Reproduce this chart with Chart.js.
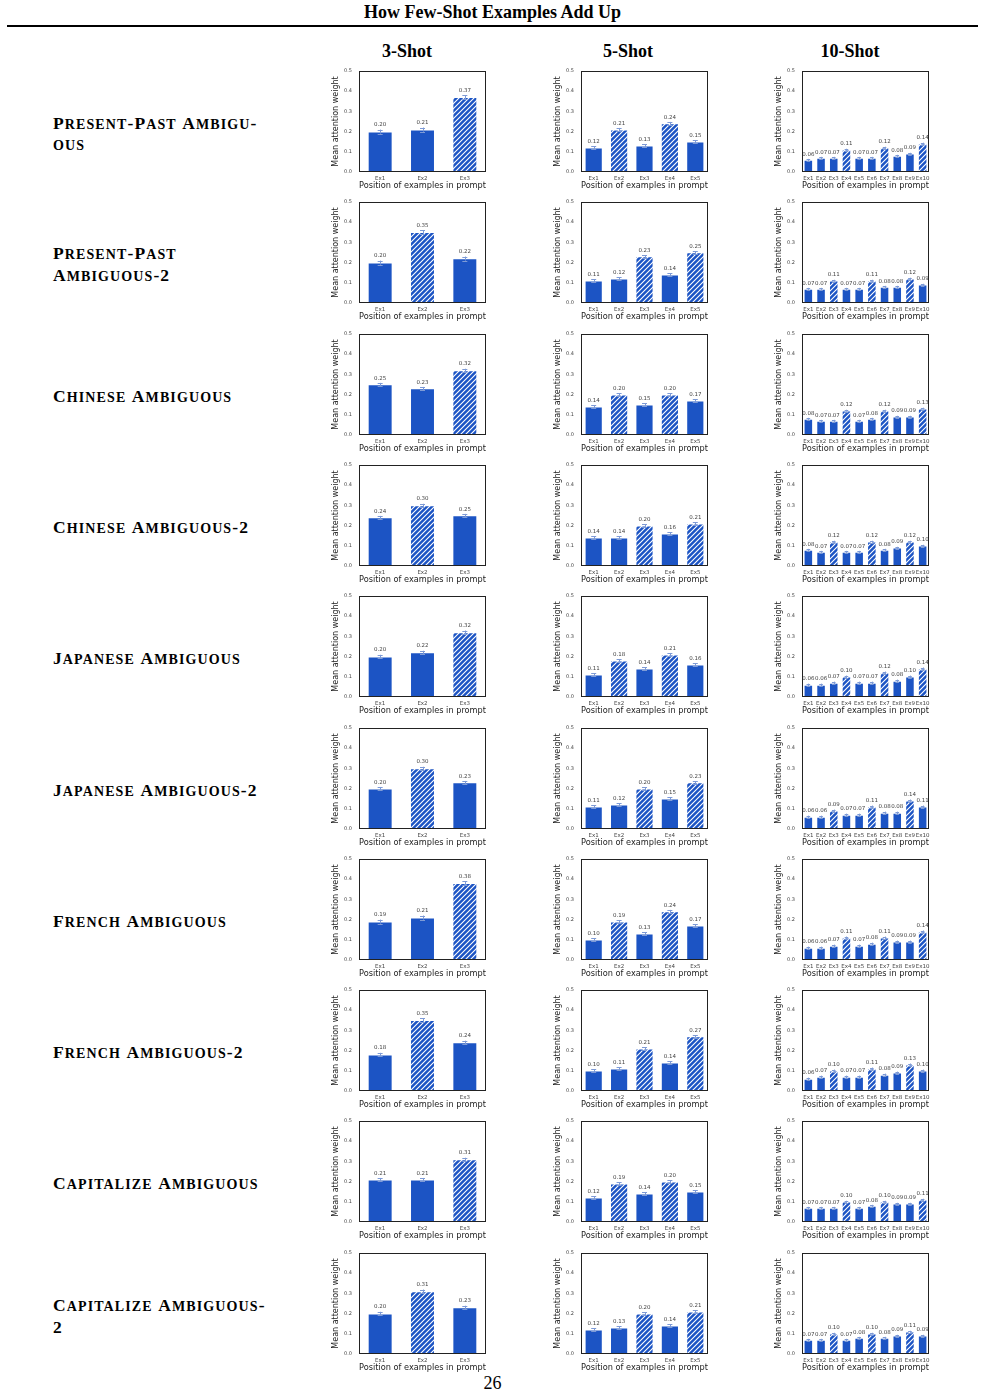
<!DOCTYPE html>
<html><head><meta charset="utf-8">
<script src="https://cdn.jsdelivr.net/npm/chart.js@4.4.0/dist/chart.umd.min.js"></script>
<style>
html,body{margin:0;padding:0;background:#fff;}
body{width:985px;height:1392px;position:relative;overflow:hidden;font-family:'Liberation Serif','Times New Roman',serif;color:#000;}
.abs{position:absolute;}
#title{left:0;width:985px;top:2px;text-align:center;font-weight:bold;font-size:18px;}
#rule{left:7px;width:971px;top:25px;height:2px;background:#000;}
.colhead{top:41px;font-weight:bold;font-size:18px;transform:translateX(-50%);white-space:nowrap;}
.rowlab{left:53px;font-weight:bold;transform:translateY(-50%);line-height:20px;letter-spacing:1.1px;white-space:nowrap;}
.rowlab .big{font-size:17.5px;}
.rowlab .sm{font-size:14px;}
#page{left:0;width:985px;top:1373px;text-align:center;font-size:18px;}
canvas{position:absolute;}
</style></head><body>
<div id="title" class="abs">How Few-Shot Examples Add Up</div>
<div id="rule" class="abs"></div>
<div id="page" class="abs">26</div>
<script>
// ---------- data ----------
const shotTitles = ['3-Shot', '5-Shot', '10-Shot'];
const taskNames = [
  'Present-Past Ambigu-|ous',
  'Present-Past|Ambiguous-2',
  'Chinese Ambiguous',
  'Chinese Ambiguous-2',
  'Japanese Ambiguous',
  'Japanese Ambiguous-2',
  'French Ambiguous',
  'French Ambiguous-2',
  'Capitalize Ambiguous',
  'Capitalize Ambiguous-|2'
];
const labels3 = ['Ex1', 'Ex2', 'Ex3'];
const labels5 = ['Ex1', 'Ex2', 'Ex3', 'Ex4', 'Ex5'];
const labels10 = ['Ex1', 'Ex2', 'Ex3', 'Ex4', 'Ex5', 'Ex6', 'Ex7', 'Ex8', 'Ex9', 'Ex10'];
const yTicks = [0.0, 0.1, 0.2, 0.3, 0.4, 0.5];

const vals3 = [
  [0.20, 0.21, 0.37],
  [0.20, 0.35, 0.22],
  [0.25, 0.23, 0.32],
  [0.24, 0.30, 0.25],
  [0.20, 0.22, 0.32],
  [0.20, 0.30, 0.23],
  [0.19, 0.21, 0.38],
  [0.18, 0.35, 0.24],
  [0.21, 0.21, 0.31],
  [0.20, 0.31, 0.23]
];
const vals5 = [
  [0.12, 0.21, 0.13, 0.24, 0.15],
  [0.11, 0.12, 0.23, 0.14, 0.25],
  [0.14, 0.20, 0.15, 0.20, 0.17],
  [0.14, 0.14, 0.20, 0.16, 0.21],
  [0.11, 0.18, 0.14, 0.21, 0.16],
  [0.11, 0.12, 0.20, 0.15, 0.23],
  [0.10, 0.19, 0.13, 0.24, 0.17],
  [0.10, 0.11, 0.21, 0.14, 0.27],
  [0.12, 0.19, 0.14, 0.20, 0.15],
  [0.12, 0.13, 0.20, 0.14, 0.21]
];
const vals10 = [
  [0.06, 0.07, 0.07, 0.11, 0.07, 0.07, 0.12, 0.08, 0.09, 0.14],
  [0.07, 0.07, 0.11, 0.07, 0.07, 0.11, 0.08, 0.08, 0.12, 0.09],
  [0.08, 0.07, 0.07, 0.12, 0.07, 0.08, 0.12, 0.09, 0.09, 0.13],
  [0.08, 0.07, 0.12, 0.07, 0.07, 0.12, 0.08, 0.09, 0.12, 0.10],
  [0.06, 0.06, 0.07, 0.10, 0.07, 0.07, 0.12, 0.08, 0.10, 0.14],
  [0.06, 0.06, 0.09, 0.07, 0.07, 0.11, 0.08, 0.08, 0.14, 0.11],
  [0.06, 0.06, 0.07, 0.11, 0.07, 0.08, 0.11, 0.09, 0.09, 0.14],
  [0.06, 0.07, 0.10, 0.07, 0.07, 0.11, 0.08, 0.09, 0.13, 0.10],
  [0.07, 0.07, 0.07, 0.10, 0.07, 0.08, 0.10, 0.09, 0.09, 0.11],
  [0.07, 0.07, 0.10, 0.07, 0.08, 0.10, 0.08, 0.09, 0.11, 0.09]
];
// indices of hatched (ambiguous) examples, per row
const hatched3 = [[2],[1],[2],[1],[2],[1],[2],[1],[2],[1]];
const hatched5 = [[1,3],[2,4],[1,3],[2,4],[1,3],[2,4],[1,3],[2,4],[1,3],[2,4]];
const hatched10 = [[3,6,9],[2,5,8],[3,6,9],[2,5,8],[3,6,9],[2,5,8],[3,6,9],[2,5,8],[3,6,9],[2,5,8]];
// approximate error-bar half lengths
const errs3 = [0.010, 0.010, 0.008, 0.008, 0.009, 0.008, 0.010, 0.009, 0.008, 0.009];
const errs5 = [0.008, 0.007, 0.007, 0.007, 0.008, 0.007, 0.008, 0.007, 0.007, 0.007];
const errs10 = [0.005, 0.005, 0.005, 0.005, 0.006, 0.006, 0.006, 0.006, 0.005, 0.005];

// ---------- style / layout ----------
const BLUE = '#1c54c4';
const ERRC = '#7d9ad6';
const colCenters = [407, 628, 850];
const plotLefts = [359, 581, 802];
const PLOT_W = 127, PLOT_H = 101;
const TOP0 = 71, PITCH = 131.3;
const Y_AXIS_W = 28, PAD_TOP = 6, X_AXIS_H = 19, PAD_RIGHT = 9;

function makeHatch() {
  const c = document.createElement('canvas');
  c.width = 5; c.height = 5;
  const g = c.getContext('2d');
  g.fillStyle = BLUE; g.fillRect(0, 0, 5, 5);
  g.strokeStyle = '#ffffff'; g.lineWidth = 1.1;
  g.beginPath();
  g.moveTo(-1, 6); g.lineTo(6, -1);
  g.moveTo(-1, 1); g.lineTo(1, -1);
  g.moveTo(4, 6); g.lineTo(6, 4);
  g.stroke();
  return g.createPattern(c, 'repeat');
}
const hatchPattern = makeHatch();

const overlayPlugin = {
  id: 'overlay',
  afterDatasetsDraw(chart, args, opts) {
    const ctx = chart.ctx, a = chart.chartArea, ys = chart.scales.y;
    const meta = chart.getDatasetMeta(0);
    const data = chart.data.datasets[0].data;
    ctx.save();
    meta.data.forEach((bar, i) => {
      const v = data[i];
      const cx = bar.x;
      const yt = ys.getPixelForValue(v + opts.err);
      const yb = ys.getPixelForValue(v - opts.err);
      const cap = opts.cap;
      ctx.strokeStyle = ERRC; ctx.lineWidth = 1;
      ctx.beginPath();
      ctx.moveTo(Math.round(cx) + 0.5, yt); ctx.lineTo(Math.round(cx) + 0.5, yb);
      ctx.moveTo(cx - cap, Math.round(yt) + 0.5); ctx.lineTo(cx + cap, Math.round(yt) + 0.5);
      ctx.moveTo(cx - cap, Math.round(yb) + 0.5); ctx.lineTo(cx + cap, Math.round(yb) + 0.5);
      ctx.stroke();
      ctx.fillStyle = '#444';
      ctx.font = '5.5px "DejaVu Sans"';
      ctx.textAlign = 'center'; ctx.textBaseline = 'bottom';
      ctx.fillText(v.toFixed(2), cx, yt - 2);
    });
    ctx.strokeStyle = '#222'; ctx.lineWidth = 1;
    ctx.strokeRect(a.left + 0.5, a.top + 0.5, a.right - a.left - 1, a.bottom - a.top - 1);
    ctx.restore();
  }
};

function chartConfig(labels, values, hatchedIdx, err, barPct, col) {
  const fills = values.map((v, i) => hatchedIdx.includes(i) ? hatchPattern : BLUE);
  return {
    type: 'bar',
    data: { labels: labels, datasets: [{ data: values, backgroundColor: fills,
      borderColor: 'rgba(255,255,255,0.55)', borderWidth: 0.8,
      barPercentage: barPct, categoryPercentage: 1.0 }] },
    options: {
      responsive: false, animation: false, devicePixelRatio: 1,
      layout: { padding: { top: PAD_TOP, right: PAD_RIGHT, left: 0, bottom: 0 } },
      plugins: { legend: { display: false }, tooltip: { enabled: false },
        overlay: { err: err, cap: col === 2 ? 1.8 : 2.5 } },
      scales: {
        x: {
          grid: { display: false, drawTicks: false }, border: { display: false },
          ticks: { font: { size: 5.5, family: 'DejaVu Sans' }, color: '#444', padding: 3,
            maxRotation: 0, minRotation: 0, autoSkip: false },
          title: { display: true, text: 'Position of examples in prompt',
            font: { size: 8.2, family: 'DejaVu Sans' }, color: '#222', padding: 0 },
          afterFit(s) { s.height = X_AXIS_H; }
        },
        y: {
          min: 0, max: 0.5,
          afterBuildTicks(s) { s.ticks = yTicks.map(v => ({ value: v })); },
          grid: { display: false, drawTicks: false }, border: { display: false },
          ticks: { font: { size: 5, family: 'DejaVu Sans' }, color: '#444', padding: 7,
            callback: v => Number(v).toFixed(1) },
          title: { display: true, text: 'Mean attention weight',
            font: { size: 8, family: 'DejaVu Sans' }, color: '#222', padding: 0 },
          afterFit(s) { s.width = Y_AXIS_W; }
        }
      }
    },
    plugins: [overlayPlugin]
  };
}

function buildChart(col, row, labels, values, hatchedIdx, err, barPct) {
  const plotTop = Math.round(TOP0 + row * PITCH);
  const cv = document.createElement('canvas');
  let W = Y_AXIS_W + PLOT_W + PAD_RIGHT, H = PAD_TOP + PLOT_H + X_AXIS_H;
  cv.width = W; cv.height = H;
  cv.style.width = W + 'px'; cv.style.height = H + 'px';
  document.body.appendChild(cv);
  let ch = new Chart(cv, chartConfig(labels, values, hatchedIdx, err, barPct, col));
  let a = ch.chartArea;
  const dW = PLOT_W - Math.round(a.right - a.left);
  const dH = PLOT_H - Math.round(a.bottom - a.top);
  if (dW !== 0 || dH !== 0) {
    ch.destroy();
    W += dW; H += dH;
    cv.width = W; cv.height = H;
    cv.style.width = W + 'px'; cv.style.height = H + 'px';
    ch = new Chart(cv, chartConfig(labels, values, hatchedIdx, err, barPct, col));
    a = ch.chartArea;
  }
  cv.style.left = (plotLefts[col] - Math.round(a.left)) + 'px';
  cv.style.top = (plotTop - Math.round(a.top)) + 'px';
}

// column headers
shotTitles.forEach((t, i) => {
  const d = document.createElement('div');
  d.className = 'abs colhead'; d.textContent = t;
  d.style.left = colCenters[i] + 'px';
  document.body.appendChild(d);
});

// row labels in small caps
function smallCapsHTML(text) {
  return text.split('|').map(line => {
    let out = '';
    for (const ch of line) {
      if (ch >= 'a' && ch <= 'z') out += '<span class="sm">' + ch.toUpperCase() + '</span>';
      else out += '<span class="big">' + (ch === ' ' ? '&nbsp;' : ch) + '</span>';
    }
    return out;
  }).join('<br>');
}
taskNames.forEach((name, r) => {
  const d = document.createElement('div');
  d.className = 'abs rowlab';
  d.innerHTML = smallCapsHTML(name);
  d.style.top = (TOP0 + r * PITCH + 63) + 'px';
  document.body.appendChild(d);
});

for (let r = 0; r < 10; r++) {
  buildChart(0, r, labels3, vals3[r], hatched3[r], errs3[r], 0.58);
  buildChart(1, r, labels5, vals5[r], hatched5[r], errs5[r], 0.70);
  buildChart(2, r, labels10, vals10[r], hatched10[r], errs10[r], 0.72);
}
</script>
</body></html>
